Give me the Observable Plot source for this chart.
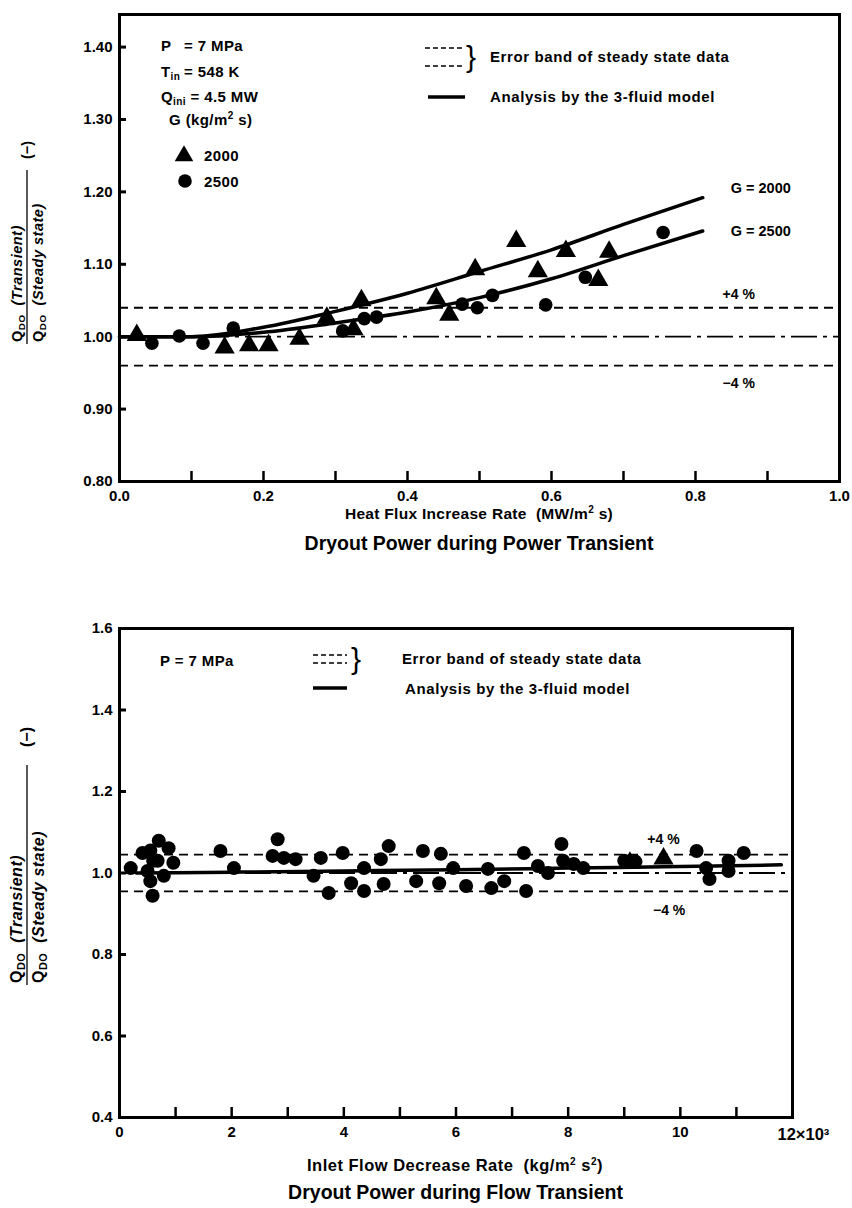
<!DOCTYPE html>
<html><head><meta charset="utf-8">
<script src="https://cdn.jsdelivr.net/npm/d3@7"></script>
<script src="https://cdn.jsdelivr.net/npm/@observablehq/plot@0.6"></script>
<style>
body{margin:0;background:#fff;}
#wrap{position:relative;width:852px;height:1208px;font-family:"Liberation Sans",Arial,sans-serif;font-weight:bold;color:#000;}
#wrap svg{position:absolute;left:0;overflow:visible;}
.cap{position:absolute;text-align:center;font-size:19.5px;font-weight:bold;white-space:nowrap;}
</style></head><body><div id="wrap"></div>
<script>
// ---------- Top chart data (power transient) ----------
const g2000X = [0.024, 0.146, 0.18, 0.207, 0.25, 0.288, 0.325, 0.336, 0.44, 0.458, 0.494, 0.551, 0.581, 0.62, 0.665, 0.68];
const g2000Y = [1.002, 0.985, 0.988, 0.988, 0.997, 1.026, 1.010, 1.050, 1.053, 1.030, 1.093, 1.132, 1.090, 1.118, 1.078, 1.117];
const g2500X = [0.045, 0.083, 0.116, 0.158, 0.31, 0.34, 0.357, 0.476, 0.497, 0.518, 0.592, 0.647, 0.755];
const g2500Y = [0.991, 1.001, 0.991, 1.012, 1.008, 1.025, 1.027, 1.045, 1.040, 1.057, 1.044, 1.082, 1.144];
const modelTopX = [0.0, 0.1, 0.2, 0.3, 0.4, 0.5, 0.6, 0.7, 0.81];
const model2000Y = [1.0, 1.0, 1.013, 1.035, 1.060, 1.090, 1.120, 1.155, 1.192];
const model2500Y = [1.0, 1.0, 1.006, 1.019, 1.034, 1.054, 1.080, 1.112, 1.146];
const bandTop = [1.04, 0.96];
const xTicksTop = [0.1, 0.2, 0.3, 0.4, 0.5, 0.6, 0.7, 0.8, 0.9];
const xLabelsTop = [0, 0.2, 0.4, 0.6, 0.8, 1.0];
const yTicksTop = [0.8, 0.9, 1.0, 1.1, 1.2, 1.3, 1.4];

// ---------- Bottom chart data (flow transient), x in 10^3 kg/m2 s2 ----------
const flowCircX = [0.2, 0.41, 0.5, 0.55, 0.55, 0.59, 0.6, 0.68, 0.70, 0.79, 0.875, 0.96, 1.8, 2.04, 2.73, 2.82, 2.93, 3.14, 3.46, 3.59, 3.73, 3.98, 4.13, 4.36, 4.36, 4.66, 4.71, 4.8, 5.29, 5.41, 5.7, 5.73, 5.95, 6.18, 6.57, 6.63, 6.86, 7.21, 7.25, 7.46, 7.64, 7.88, 7.91, 8.1, 8.27, 9.0, 9.2, 10.29, 10.46, 10.52, 10.86, 10.86, 11.13];
const flowCircY = [1.012, 1.049, 1.005, 0.98, 1.055, 0.944, 1.03, 1.03, 1.079, 0.993, 1.061, 1.025, 1.054, 1.012, 1.042, 1.083, 1.037, 1.034, 0.993, 1.037, 0.951, 1.049, 0.975, 1.012, 0.956, 1.034, 0.973, 1.066, 0.98, 1.054, 0.975, 1.047, 1.012, 0.968, 1.01, 0.963, 0.98, 1.049, 0.956, 1.017, 1.0, 1.071, 1.03, 1.022, 1.012, 1.03, 1.028, 1.054, 1.012, 0.985, 1.03, 1.005, 1.049];
const flowTriX = [9.1, 9.7];
const flowTriY = [1.025, 1.035];
const modelFlowX = [0.3, 2, 4, 6, 8, 10, 11.8];
const modelFlowY = [1.0, 1.002, 1.005, 1.008, 1.012, 1.016, 1.02];
const bandFlow = [1.045, 0.955];
const xTicksFlow = [1, 2, 3, 4, 5, 6, 7, 8, 9, 10, 11];
const xLabelsFlow = [0, 2, 4, 6, 8, 10];
const yTicksFlow = [0.6, 0.8, 1.0, 1.2, 1.4];

const FONT = '"Liberation Sans", Arial, sans-serif';
const wrap = document.getElementById("wrap");
const zip = (xs, ys) => xs.map((x, i) => ({x, y: ys[i]}));

// inward ticks: rules spanning the frame, inset so that only a short stub remains at the axis
const xTickMarks = (ticks, frameH, len) => Plot.ruleX(ticks, {insetTop: frameH - len, stroke: "#000", strokeWidth: 2.5});
const yTickMarks = (ticks, frameW, len) => Plot.ruleY(ticks, {insetRight: frameW - len, stroke: "#000", strokeWidth: 3});

function yLabel(svg, cx, startY, minusY, barLen, fs) {
  const g = d3.select(svg).append("g")
    .attr("transform", `translate(${cx},0) rotate(-90)`)
    .style("font-family", FONT).style("font-weight", "bold").style("font-size", fs + "px");
  const mk = (y, rest) => {
    const t = g.append("text").attr("x", -startY).attr("y", y).attr("text-anchor", "start").style("letter-spacing", "0.5px");
    t.append("tspan").text("Q");
    t.append("tspan").attr("font-size", (fs * 0.68) + "px").attr("dy", 3).text("DO");
    t.append("tspan").attr("dy", -3).attr("font-style", "italic").text("  " + rest);
  };
  mk(-5, "(Transient)");
  g.append("line").attr("x1", -startY - 2).attr("x2", -startY - 2 + barLen).attr("y1", 0).attr("y2", 0).attr("stroke", "#000").attr("stroke-width", 1.3);
  mk(fs + 1, "(Steady state)");
  g.append("text").attr("x", -minusY).attr("y", 5).attr("text-anchor", "middle").text("(−)");
}

function addText(sel, x, y, txt, opts = {}) {
  const t = sel.append("text").attr("x", x).attr("y", y)
    .style("font-family", FONT).style("font-weight", "bold").style("font-size", (opts.size || 15) + "px")
    .style("letter-spacing", (opts.ls == null ? 0.4 : opts.ls) + "px")
    .attr("text-anchor", opts.anchor || "start");
  if (typeof txt === "string") t.text(txt); else txt(t);
  return t;
}
const sup = (t, base, s, rest) => { t.append("tspan").text(base); t.append("tspan").attr("font-size", "10px").attr("dy", -6).text(s); t.append("tspan").attr("dy", 6).text(rest); };

function errorBandLegend(sel, x0, x1, ya, yb, braceX, textX, textY) {
  [ya, yb].forEach(y => sel.append("line").attr("x1", x0).attr("x2", x1).attr("y1", y).attr("y2", y)
    .attr("stroke", "#000").attr("stroke-width", 1.5).attr("stroke-dasharray", "5,3"));
  sel.append("text").attr("x", braceX).attr("y", (ya + yb) / 2 + 10).attr("text-anchor", "start").style("font-family", FONT)
    .style("font-size", "30px").style("font-weight", "normal").text("}");
  addText(sel, textX, textY, "Error band of steady state data", {size: 15, ls: 0.6});
}

const plotStyle = {fontFamily: FONT, fontWeight: "bold", fontSize: "15px", color: "#000", background: "transparent", overflow: "visible"};

// ================= TOP CHART =================
const topPlot = Plot.plot({
  width: 852, height: 525,
  marginLeft: 119, marginRight: 13, marginTop: 14, marginBottom: 44,
  style: plotStyle,
  x: {domain: [0, 1], label: null},
  y: {domain: [0.8, 1.445], label: null},
  marks: [
    Plot.ruleY(bandTop, {stroke: "#000", strokeWidth: 1.8, strokeDasharray: "9,6"}),
    Plot.ruleY([1.0], {stroke: "#000", strokeWidth: 1.8, strokeDasharray: "26,6,4,6"}),
    Plot.line(zip(modelTopX, model2000Y), {x: "x", y: "y", stroke: "#000", strokeWidth: 3.5, curve: "monotone-x"}),
    Plot.line(zip(modelTopX, model2500Y), {x: "x", y: "y", stroke: "#000", strokeWidth: 3.5, curve: "monotone-x"}),
    Plot.dot(zip(g2000X, g2000Y), {x: "x", y: "y", symbol: "triangle", r: 7.5, fill: "#000", stroke: null}),
    Plot.dot(zip(g2500X, g2500Y), {x: "x", y: "y", symbol: "circle", r: 6.8, fill: "#000", stroke: null}),
    xTickMarks(xTicksTop, 467, 10),
    yTickMarks(yTicksTop.slice(1), 720, 7),
    Plot.axisX({ticks: xLabelsTop, tickSize: 0, tickPadding: 9, fontSize: 15, tickFormat: d => d.toFixed(1), label: null}),
    Plot.axisY({ticks: yTicksTop, tickSize: 0, tickPadding: 7, fontSize: 15, tickFormat: d => d.toFixed(2), label: null}),
    Plot.text(["G = 2000"], {x: 0.81, y: 1.192, dx: 28, dy: -9, text: d => d, textAnchor: "start", fontSize: 14.5}),
    Plot.text(["G = 2500"], {x: 0.81, y: 1.146, dx: 28, text: d => d, textAnchor: "start", fontSize: 14.5}),
    Plot.text(["+4 %"], {x: 0.86, y: 1.04, dy: -13, text: d => d, fontSize: 14}),
    Plot.text(["−4 %"], {x: 0.86, y: 0.96, dy: 18, text: d => d, fontSize: 14}),
    Plot.frame({stroke: "#000", strokeWidth: 3})
  ]
});
topPlot.style.top = "0px";
wrap.appendChild(topPlot);
{
  const s = d3.select(topPlot);
  const sub = (t, main, subTxt, rest) => {
    t.append("tspan").text(main);
    t.append("tspan").attr("font-size", "10px").attr("dy", 3).text(subTxt);
    t.append("tspan").attr("dy", -3).text(rest);
  };
  addText(s, 161, 51, "P");
  addText(s, 184, 51, "= 7 MPa");
  addText(s, 161, 77, t => sub(t, "T", "in", ""));
  addText(s, 184, 77, "= 548 K");
  addText(s, 161, 102, t => sub(t, "Q", "ini", " = 4.5 MW"));
  addText(s, 169, 125, t => sup(t, "G (kg/m", "2", " s)"));
  s.append("path").attr("d", d3.symbol(d3.symbolTriangle, 150)()).attr("transform", "translate(184,156)").attr("fill", "#000");
  addText(s, 204, 161, "2000");
  s.append("circle").attr("cx", 185).attr("cy", 181).attr("r", 6.8).attr("fill", "#000");
  addText(s, 204, 187, "2500");
  errorBandLegend(s, 425, 465, 48, 66, 466, 490, 62);
  s.append("line").attr("x1", 428).attr("x2", 465).attr("y1", 97).attr("y2", 97).attr("stroke", "#000").attr("stroke-width", 3.5);
  addText(s, 490, 102, "Analysis by the 3-fluid model", {size: 15, ls: 0.6});
  addText(s, 479, 519, t => sup(t, "Heat Flux Increase Rate  (MW/m", "2", " s)"), {anchor: "middle", size: 15.5, ls: 0.3});
  yLabel(topPlot, 27, 342, 150, 174, 14.5);
}
const cap1 = document.createElement("div");
cap1.className = "cap"; cap1.style.top = "532px"; cap1.style.left = "0px"; cap1.style.width = "958px";
cap1.textContent = "Dryout Power during Power Transient";
wrap.appendChild(cap1);

// ================= BOTTOM CHART =================
const botPlot = Plot.plot({
  width: 852, height: 575,
  marginLeft: 119, marginRight: 60, marginTop: 28, marginBottom: 58,
  style: plotStyle,
  x: {domain: [0, 12], label: null},
  y: {domain: [0.4, 1.6], label: null},
  marks: [
    Plot.ruleY(bandFlow, {stroke: "#000", strokeWidth: 1.8, strokeDasharray: "9,6"}),
    Plot.ruleY([1.0], {stroke: "#000", strokeWidth: 1.8, strokeDasharray: "26,6,4,6"}),
    Plot.line(zip(modelFlowX, modelFlowY), {x: "x", y: "y", stroke: "#000", strokeWidth: 3.5, curve: "monotone-x"}),
    Plot.dot(zip(flowCircX, flowCircY), {x: "x", y: "y", symbol: "circle", r: 7, fill: "#000", stroke: null}),
    Plot.dot(zip(flowTriX, flowTriY), {x: "x", y: "y", symbol: "triangle", r: 7.5, fill: "#000", stroke: null}),
    xTickMarks(xTicksFlow, 489, 10),
    yTickMarks(yTicksFlow, 673, 7),
    Plot.axisX({ticks: xLabelsFlow, tickSize: 0, tickPadding: 9, fontSize: 15, tickFormat: d => String(d), label: null}),
    Plot.text(["12×10³"], {x: 12, y: 0.4, dx: -15, dy: 17, text: d => d, textAnchor: "start", fontSize: 16.5}),
    Plot.axisY({ticks: yTicksFlow.concat([0.4, 1.6]), tickSize: 0, tickPadding: 7, fontSize: 15, tickFormat: d => d.toFixed(1), label: null}),
    Plot.text(["+4 %"], {x: 9.7, y: 1.045, dy: -15, text: d => d, fontSize: 14}),
    Plot.text(["−4 %"], {x: 9.8, y: 0.955, dy: 19, text: d => d, fontSize: 14}),
    Plot.frame({stroke: "#000", strokeWidth: 3})
  ]
});
botPlot.style.top = "600px";
wrap.appendChild(botPlot);
{
  const s = d3.select(botPlot);
  addText(s, 160, 66, "P = 7 MPa");
  errorBandLegend(s, 313, 347, 55, 63, 351, 402, 64);
  s.append("line").attr("x1", 313).attr("x2", 347).attr("y1", 88).attr("y2", 88).attr("stroke", "#000").attr("stroke-width", 3.5);
  addText(s, 405, 94, "Analysis by the 3-fluid model", {size: 15, ls: 0.6});
  addText(s, 455, 571, t => { t.append("tspan").text("Inlet Flow Decrease Rate  (kg/m"); t.append("tspan").attr("font-size", "10px").attr("dy", -6).text("2"); t.append("tspan").attr("dy", 6).text(" s"); t.append("tspan").attr("font-size", "10px").attr("dy", -6).text("2"); t.append("tspan").attr("dy", 6).text(")"); }, {anchor: "middle", size: 16.5, ls: 0.5});
  yLabel(botPlot, 27, 383, 137, 220, 16);
}
const cap2 = document.createElement("div");
cap2.className = "cap"; cap2.style.top = "1181px"; cap2.style.left = "0px"; cap2.style.width = "911px";
cap2.textContent = "Dryout Power during Flow Transient";
wrap.appendChild(cap2);
</script></body></html>
